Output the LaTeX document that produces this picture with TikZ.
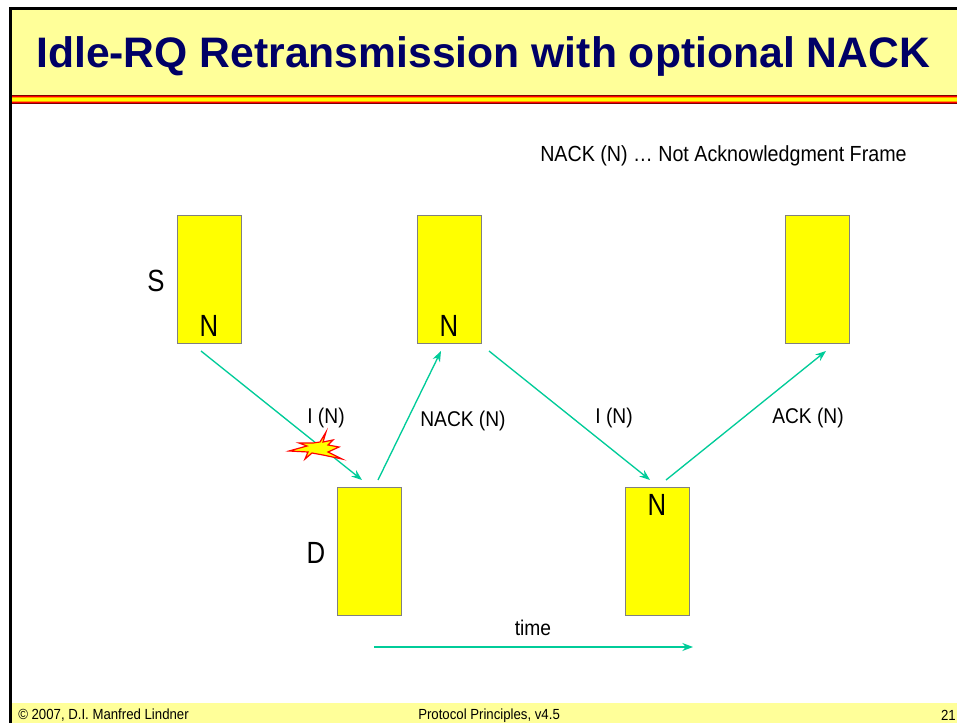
\documentclass[tikz,border=0pt]{standalone}
\usepackage{fontspec}
\setmainfont{Liberation Sans}
\newfontfamily\narrowfont[FakeStretch=0.9]{Liberation Sans}
\newfontfamily\tallfont[FakeStretch=0.84]{Liberation Sans}
\usetikzlibrary{arrows}
\usetikzlibrary{arrows.meta}
\definecolor{paleyellow}{RGB}{255,255,153}
\definecolor{fullyellow}{RGB}{255,255,0}
\definecolor{titleblue}{RGB}{0,0,102}
\definecolor{arrowgreen}{RGB}{0,204,153}
\definecolor{bandred}{RGB}{255,0,0}
\definecolor{banddark}{RGB}{128,0,0}
\definecolor{bandorange}{RGB}{255,153,0}
\tikzset{
	framebox/.style={draw=black!50,line width=0.75pt,fill=fullyellow,minimum width=48pt,minimum height=96pt,inner sep=0pt},
	msg/.style={draw=arrowgreen,line width=1pt,-{Stealth[length=8pt,width=6pt]}},
	label/.style={inner sep=0pt,font=\narrowfont\fontsize{16}{18}\selectfont},
	big/.style={inner sep=0pt,font=\tallfont\fontsize{23}{25}\selectfont},
	foot/.style={inner sep=0pt,font=\narrowfont\fontsize{11}{12}\selectfont}
}
\begin{document}
\begin{tikzpicture}[line cap=butt,line join=miter,x=0.75pt,y=-0.75pt]
	\useasboundingbox (0,0) rectangle (957,723);
	\fill [white] (0,0) rectangle (957,723);
	% header and footer
	\fill [paleyellow] (11,9) rectangle (957,95);
	\fill [paleyellow] (11,703) rectangle (957,723);
	\fill [banddark] (9,95) rectangle (957,104);
	\fill [bandred] (9,96) rectangle (957,103);
	\fill [bandorange] (9,96.8) rectangle (957,102.2);
	\fill [fullyellow] (9,98) rectangle (957,101);
	\draw [line width=2.2pt] (10.5,723)-- (10.5,8.5)-- (957,8.5);
	\node [anchor=west,inner sep=0pt,text=titleblue,font=\bfseries\fontsize{32}{34}\selectfont] (title) at (36,56) {Idle-RQ Retransmission with optional NACK};
	\node [foot,anchor=west] (copy) at (18,715.5) {© 2007, D.I. Manfred Lindner};
	\node [foot,anchor=west] (version) at (418,715.5) {Protocol Principles, v4.5};
	\node [foot,anchor=east] (page) at (956,715) {21};
	\node [label,anchor=west,font=\narrowfont\fontsize{16.4}{18}\selectfont] (legend) at (540,156) {NACK (N) … Not Acknowledgment Frame};
	% frames
	\node [framebox] (s1) at (209,279.5) {};
	\node [framebox] (s2) at (449,279.5) {};
	\node [framebox] (s3) at (817,279.5) {};
	\node [framebox] (d1) at (369,551.5) {};
	\node [framebox] (d2) at (657,551.5) {};
	\node [big] (sname) at (156,281) {S};
	\node [big] (dname) at (316,553) {D};
	\node [big] (n1) at (209,326) {N};
	\node [big] (n2) at (449,326) {N};
	\node [big] (n3) at (657,505) {N};
	% arrow ends
	\coordinate (a1) at (201,351);
	\coordinate (b1) at (362,480);
	\coordinate (a2) at (378,480);
	\coordinate (b2) at (441,351);
	\coordinate (a3) at (489,351);
	\coordinate (b3) at (650,480);
	\coordinate (a4) at (666,480);
	\coordinate (b4) at (826,351);
	\coordinate (t1) at (374,647);
	\coordinate (t2) at (693,647);
	\draw [msg] (a1)-- (b1);
	\draw [msg] (a2)-- (b2);
	\draw [msg] (a3)-- (b3);
	\draw [msg] (a4)-- (b4);
	\draw [msg] (t1)-- (t2);
	\node [label] (i1) at (326,418) {I (N)};
	\node [label] (nack) at (463,421) {NACK (N)};
	\node [label] (i2) at (614,418) {I (N)};
	\node [label] (ack) at (808,418) {ACK (N)};
	\node [label] (time) at (533,628) {time};
	% the loss
	\draw [draw=bandred,line width=0.9pt,fill=fullyellow] (289,451)-- (307,446)-- (299,443)-- (313,443)-- (320,442)-- (326,432)-- (323,442)-- (333,440)-- (328,445)-- (339,447)-- (328,452)-- (342,459)-- (323,455)-- (312,453)-- (305,459)-- (308,452)-- cycle;
\end{tikzpicture}
\end{document}
